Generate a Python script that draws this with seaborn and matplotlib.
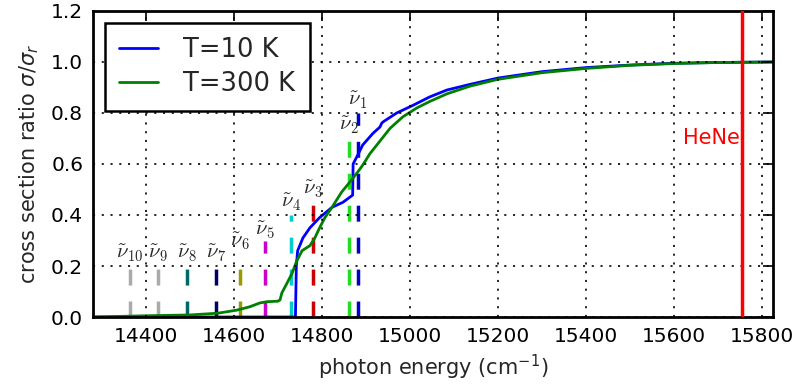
import numpy as np
import pandas as pd
import matplotlib
matplotlib.use("Agg")
import matplotlib.pyplot as plt
import seaborn as sns

# ---- data ----
x_10K = [14280, 14740, 14742, 14745, 14757, 14773, 14795, 14823, 14848, 14870,
         14871, 14880, 14893, 14916, 14932, 14936, 14939, 14970, 15007, 15045,
         15084, 15136, 15200, 15300, 15400, 15500, 15600, 15700, 15825]
y_10K = [0.0, 0.0, 0.20, 0.26, 0.31, 0.35, 0.39, 0.43, 0.45, 0.478,
         0.60, 0.63, 0.675, 0.72, 0.745, 0.760, 0.765, 0.80, 0.83, 0.863,
         0.89, 0.912, 0.937, 0.962, 0.978, 0.988, 0.995, 0.998, 1.0]

x_300K = [14280, 14405, 14500, 14564, 14607, 14636, 14659, 14675, 14700, 14705,
          14709, 14720, 14732, 14743, 14755, 14773, 14784, 14795, 14807, 14823,
          14834, 14845, 14864, 14880, 14893, 14909, 14932, 14955, 14984, 15016,
          15045, 15084, 15136, 15200, 15300, 15402, 15500, 15600, 15700, 15825]
y_300K = [0.0, 0.005, 0.008, 0.015, 0.027, 0.04, 0.055, 0.06, 0.062, 0.067,
          0.094, 0.13, 0.17, 0.22, 0.26, 0.28, 0.31, 0.35, 0.39, 0.43,
          0.46, 0.49, 0.53, 0.565, 0.596, 0.64, 0.69, 0.74, 0.785, 0.82,
          0.845, 0.875, 0.905, 0.932, 0.958, 0.975, 0.987, 0.994, 0.998, 1.0]

nu_labels = [r"$\tilde{\nu}_{1}$", r"$\tilde{\nu}_{2}$", r"$\tilde{\nu}_{3}$",
             r"$\tilde{\nu}_{4}$", r"$\tilde{\nu}_{5}$", r"$\tilde{\nu}_{6}$",
             r"$\tilde{\nu}_{7}$", r"$\tilde{\nu}_{8}$", r"$\tilde{\nu}_{9}$",
             r"$\tilde{\nu}_{10}$"]
nu_pos = [14881, 14861, 14780, 14730, 14670, 14614, 14559, 14493, 14427, 14364]
nu_height = [0.8, 0.7, 0.45, 0.4, 0.3, 0.25, 0.2, 0.2, 0.2, 0.2]
nu_label_y = [0.85, 0.75, 0.50, 0.45, 0.34, 0.295, 0.25, 0.25, 0.25, 0.25]
nu_colors = ["#0000cc", "#22dd22", "#cc0000", "#00cccc", "#cc00cc",
             "#999900", "#000066", "#006666", "#aaaaaa", "#aaaaaa"]

hene_pos = 15755
series_names = ["T=10 K", "T=300 K"]

df = pd.concat([
    pd.DataFrame({"energy": x_10K, "ratio": y_10K, "series": series_names[0]}),
    pd.DataFrame({"energy": x_300K, "ratio": y_300K, "series": series_names[1]}),
], ignore_index=True)

# ---- style ----
sns.set_theme(style="white")
plt.rcParams.update({
    "font.family": ["DejaVu Sans"],
    "axes.edgecolor": "black",
    "axes.linewidth": 2.0,
    "xtick.direction": "in",
    "ytick.direction": "in",
    "xtick.top": True,
    "ytick.right": True,
    "xtick.major.size": 7,
    "ytick.major.size": 7,
    "xtick.major.width": 1.2,
    "ytick.major.width": 1.2,
    "xtick.color": "black",
    "ytick.color": "black",
    "lines.scale_dashes": False,
    "mathtext.fontset": "cm",
})

fig = plt.figure(figsize=(7.98, 3.92), dpi=100)
ax = fig.add_axes([0.1165, 0.1913, 0.8522, 0.7807])

sns.lineplot(data=df, x="energy", y="ratio", hue="series",
             palette=["#0000ff", "#008000"], linewidth=2.0, ax=ax,
             estimator=None, sort=False, legend=True)

for lbl, xp, h, ly, c in zip(nu_labels, nu_pos, nu_height, nu_label_y, nu_colors):
    ax.plot([xp, xp], [0, h], color=c, linewidth=2.5,
            linestyle=(0, (11.5, 11.5)), zorder=1)
    ax.text(xp, ly, lbl, ha="center", va="center", fontsize=15)

ax.axvline(hene_pos, color="red", linewidth=2.5, zorder=3)
ax.text(hene_pos - 6, 0.70, "HeNe", color="red", ha="right", va="center",
        fontsize=15)

ax.set_xlim(14280, 15825)
ax.set_ylim(0, 1.2)
ax.set_xticks(np.arange(14400, 15801, 200))
ax.set_yticks(np.arange(0, 1.21, 0.2))
ax.tick_params(labelsize=14.5, pad=7)
ax.grid(True, color="black", linestyle=(0, (1.5, 4.8)), linewidth=1.2)
ax.set_axisbelow(False)

ax.set_xlabel(r"photon energy (cm$^{-1}$)", fontsize=15, labelpad=5,
              math_fontfamily="dejavusans")
ax.set_ylabel(r"cross section ratio $\sigma/\sigma_r$", fontsize=15, labelpad=7,
              math_fontfamily="dejavusans")

leg = ax.legend(loc="upper left", fontsize=18.5, frameon=True, fancybox=False,
                handlelength=1.5, handletextpad=1.0, borderpad=0.55,
                borderaxespad=0.47, labelspacing=0.3)
leg.get_frame().set_edgecolor("black")
leg.get_frame().set_linewidth(1.8)
leg.get_frame().set_alpha(1.0)
for line in leg.get_lines():
    line.set_linewidth(2.0)

fig.savefig("out.png", dpi=100)
